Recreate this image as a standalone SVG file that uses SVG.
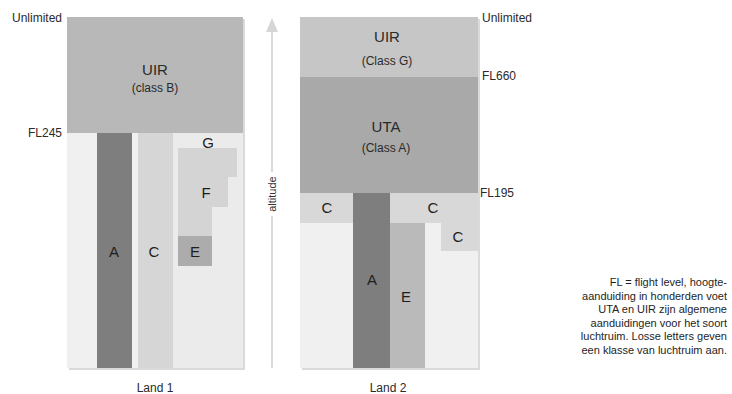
<svg xmlns="http://www.w3.org/2000/svg" width="732" height="394" viewBox="0 0 732 394">
<style>
  text { font-family: "Liberation Sans", Arial, sans-serif; fill: #2a2a2a; }
  .lab { font-size: 12px; }
  .big { font-size: 15px; text-anchor: middle; }
  .sub { font-size: 12px; text-anchor: middle; }
  .cls { font-size: 15px; text-anchor: middle; fill: #1e1e1e; }
  .note { font-size: 11px; text-anchor: end; fill: #1e1e1e; }
  .shadow { fill: #dadada; }
</style>
<rect width="732" height="394" fill="#ffffff"/>

<g id="land1">
  <rect class="shadow" x="69" y="19" width="176" height="351"/>
  <rect x="67" y="17" width="176" height="116" fill="#b8b8b8"/>
  <rect x="67" y="133" width="176" height="235" fill="#f0f0f0"/>
  <rect x="173" y="133" width="70" height="235" fill="#ebebeb"/>
  <rect x="97" y="133" width="35" height="235" fill="#7e7e7e"/>
  <rect x="138" y="133" width="35" height="235" fill="#d6d6d6"/>
  <polygon points="178,148 237,148 237,177 228,177 228,207 212,207 212,236 178,236" fill="#d4d4d4"/>
  <rect x="178" y="236" width="34" height="30" fill="#acacac"/>
  <text class="big" x="155" y="75">UIR</text>
  <text class="sub" x="155" y="92">(class B)</text>
  <text class="cls" x="208" y="148">G</text>
  <text class="cls" x="206" y="198">F</text>
  <text class="cls" x="114" y="257">A</text>
  <text class="cls" x="154" y="257">C</text>
  <text class="cls" x="195" y="257">E</text>
  <text class="lab" x="62" y="22" text-anchor="end">Unlimited</text>
  <text class="lab" x="62" y="137" text-anchor="end">FL245</text>
  <text class="lab" x="155" y="392" text-anchor="middle">Land 1</text>
</g>

<g id="land2">
  <rect class="shadow" x="302" y="19" width="178" height="351"/>
  <rect x="300" y="17" width="178" height="60" fill="#c6c6c6"/>
  <rect x="300" y="77" width="178" height="116" fill="#a9a9a9"/>
  <rect x="300" y="193" width="178" height="175" fill="#f0f0f0"/>
  <rect x="300" y="193" width="178" height="30" fill="#d8d8d8"/>
  <rect x="441" y="223" width="37" height="28" fill="#d8d8d8"/>
  <rect x="353" y="193" width="37" height="175" fill="#7e7e7e"/>
  <rect x="390" y="223" width="35" height="145" fill="#bababa"/>
  <text class="big" x="387" y="42">UIR</text>
  <text class="sub" x="387" y="65">(Class G)</text>
  <text class="big" x="386" y="132">UTA</text>
  <text class="sub" x="386" y="152">(Class A)</text>
  <text class="cls" x="327" y="213">C</text>
  <text class="cls" x="433" y="213">C</text>
  <text class="cls" x="458" y="242">C</text>
  <text class="cls" x="372" y="285">A</text>
  <text class="cls" x="406" y="302">E</text>
  <text class="lab" x="482" y="22">Unlimited</text>
  <text class="lab" x="482" y="80">FL660</text>
  <text class="lab" x="480" y="197">FL195</text>
  <text class="lab" x="388" y="392" text-anchor="middle">Land 2</text>
</g>

<g id="connectors">
  <line x1="272" y1="30" x2="272" y2="368" stroke="#dadada" stroke-width="2"/>
  <polygon points="272,18 266,32 278,32" fill="#d6d6d6"/>
  <rect x="265" y="172" width="14" height="44" fill="#ffffff"/>
  <text x="276" y="194" font-size="11" text-anchor="middle" transform="rotate(-90 276 194)" style="fill:#333">altitude</text>
</g>

<g id="note">
  <text class="note" x="727" y="286">FL = flight level, hoogte-</text>
  <text class="note" x="727" y="299.5">aanduiding in honderden voet</text>
  <text class="note" x="727" y="313">UTA en UIR zijn algemene</text>
  <text class="note" x="727" y="326.5">aanduidingen voor het soort</text>
  <text class="note" x="727" y="340">luchtruim. Losse letters geven</text>
  <text class="note" x="727" y="353.5">een klasse van luchtruim aan.</text>
</g>
</svg>
